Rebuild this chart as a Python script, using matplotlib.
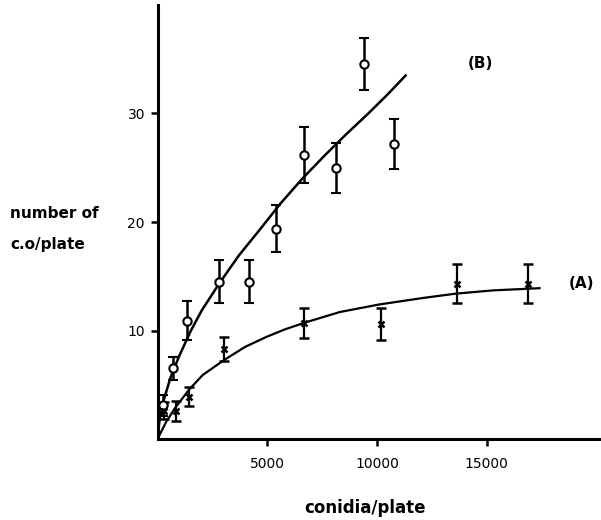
import numpy as np
from matplotlib import pyplot as plt

# (B) colonies per plate, open circles, with error bars
xB = [270, 700, 1350, 2780, 4190, 5410, 6650, 8110, 9390, 10750]
yB = [3.1, 6.5, 10.9, 14.5, 14.5, 19.4, 26.2, 25.0, 34.6, 27.2]
errB = [1.0, 1.1, 1.8, 2.0, 2.0, 2.2, 2.6, 2.3, 2.4, 2.3]

# (A) colonies per plate, crosses, with error bars
xA = [300, 850, 1430, 3050, 6670, 10190, 13640, 16890]
yA = [2.6, 2.6, 3.9, 8.3, 10.7, 10.6, 14.3, 14.3]
errA = [0.8, 0.9, 0.9, 1.1, 1.4, 1.5, 1.8, 1.8]

# hand-drawn curves through the points
curveB_x = [0, 100, 300, 600, 1000, 1500, 2000, 2800, 3700, 4700, 5600,
            6600, 7600, 8600, 9600, 10500, 11300]
curveB_y = [0, 1.9, 3.7, 5.7, 7.7, 9.9, 11.8, 14.3, 16.9, 19.4, 21.7,
            24.0, 26.1, 28.1, 30.0, 31.8, 33.5]
curveA_x = [0, 400, 850, 1460, 2060, 3050, 4000, 4950, 5800, 6670, 8300,
            10100, 12100, 13600, 15300, 16900, 17400]
curveA_y = [0, 1.6, 3.0, 4.6, 5.9, 7.3, 8.5, 9.4, 10.1, 10.7, 11.7,
            12.4, 13.0, 13.4, 13.7, 13.85, 13.9]

xticks = [5000, 10000, 15000]
yticks = [10, 20, 30]

fig = plt.figure(figsize=(6.01, 5.20), dpi=100)
ax = fig.add_axes([157.5 / 601, 81 / 520, 1 - 157.5 / 601, 434 / 520])

ax.plot(curveB_x, curveB_y, c='black', lw=1.8, solid_joinstyle='round')
ax.plot(curveA_x, curveA_y, c='black', lw=1.6, solid_joinstyle='round')

ax.errorbar(xB, yB, yerr=errB, fmt='o', ms=6, mfc='white', mec='black',
            mew=1.5, ecolor='black', elinewidth=1.8, capsize=3.5,
            capthick=1.8, zorder=3)
ax.errorbar(xA, yA, yerr=errA, fmt='x', ms=4.5, mec='black', mew=1.8,
            ecolor='black', elinewidth=1.6, capsize=3.5, capthick=1.6,
            zorder=3)

ax.set_xlim(0, 20200)
ax.set_ylim(0, 40)
ax.set_xticks(xticks)
ax.set_xticklabels([str(t) for t in xticks])
ax.set_yticks(yticks)
ax.set_yticklabels([str(t) for t in yticks])

for side in ('top', 'right'):
    ax.spines[side].set_visible(False)
for side in ('left', 'bottom'):
    ax.spines[side].set_linewidth(2.2)
ax.tick_params(direction='out', length=5, width=1.8, labelsize=10)
ax.tick_params(axis='x', pad=8)
ax.tick_params(axis='y', pad=4)

fig.text(480 / 601, 1 - 64 / 520, '(B)', fontsize=11, fontweight='bold',
         ha='center', va='center')
fig.text(582 / 601, 1 - 284 / 520, '(A)', fontsize=11, fontweight='bold',
         ha='center', va='center')
fig.text(10 / 601, 1 - 214 / 520, 'number of', fontsize=11,
         fontweight='bold', ha='left', va='center')
fig.text(10 / 601, 1 - 245 / 520, 'c.o/plate', fontsize=11,
         fontweight='bold', ha='left', va='center')
fig.text(365 / 601, 1 - 508 / 520, 'conidia/plate', fontsize=12,
         fontweight='bold', ha='center', va='center')

fig.savefig('out.png', dpi=100)
